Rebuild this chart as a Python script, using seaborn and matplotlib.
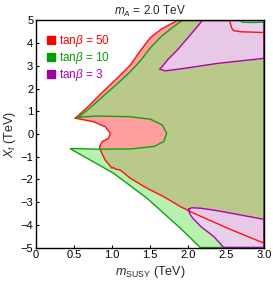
import matplotlib
matplotlib.use("Agg")
import matplotlib.pyplot as plt
import seaborn as sns
from matplotlib.lines import Line2D

# boundaries of the allowed regions (TeV)
# tan(beta) = 50
red_upper_x = [0.515, 0.70, 0.845, 1.066, 1.24, 1.38, 1.506, 1.65, 1.86]
red_upper_y = [0.69, 1.25, 1.75, 2.45, 3.03, 3.70, 4.25, 4.62, 5.0]
red_corner_x = [2.55, 2.57, 2.60, 2.70, 3.0]
red_corner_y = [5.0, 4.70, 4.55, 4.50, 4.47]
red_lower_x = [3.0, 2.52, 2.05, 1.90, 1.68, 1.46, 1.24, 1.11, 1.04, 1.02, 1.0, 0.91,
               0.845, 0.836, 0.868, 0.955, 0.977, 0.91, 0.757, 0.572, 0.515]
red_lower_y = [-4.81, -4.15, -3.45, -3.20, -2.76, -2.39, -1.95, -1.59, -1.54, -1.47, -1.51, -1.15,
               -0.70, -0.56, -0.34, -0.19, 0.03, 0.32, 0.54, 0.66, 0.69]

# tan(beta) = 10
green_upper_x = [0.54, 0.70, 0.845, 1.066, 1.24, 1.38, 1.506, 1.65, 1.80, 1.925]
green_upper_y = [0.69, 1.12, 1.55, 2.20, 2.74, 3.25, 3.80, 4.30, 4.70, 5.0]
green_corner_x = [2.68, 2.72, 2.85, 3.0]
green_corner_y = [5.0, 4.92, 4.91, 4.93]
green_lower_x = [2.16, 1.90, 1.46, 1.02, 0.45]
green_lower_y = [-5.0, -4.15, -2.83, -1.73, -0.65]
green_notch_x = [0.49, 0.80, 1.24, 1.55, 1.68, 1.72, 1.66, 1.506, 1.24, 0.80, 0.60, 0.54]
green_notch_y = [-0.64, -0.67, -0.66, -0.55, -0.34, 0.03, 0.40, 0.65, 0.76, 0.79, 0.75, 0.69]

# tan(beta) = 3
purple_top_x = [1.63, 1.68, 1.73, 1.86, 2.03, 2.19, 3.0, 3.0, 2.39, 1.95, 1.70]
purple_top_y = [2.85, 3.05, 3.26, 3.70, 4.36, 5.0, 5.0, 3.33, 3.11, 2.89, 2.78]
purple_bot_x = [2.01, 2.05, 2.17, 2.39, 3.0, 3.0, 2.47, 2.34, 2.17, 2.06, 2.02]
purple_bot_y = [-3.30, -3.25, -3.27, -3.38, -3.76, -5.0, -5.0, -4.52, -4.08, -3.70, -3.50]

labels = ["50", "10", "3"]

sns.set_style("ticks")
plt.rcParams["font.family"] = ["Liberation Sans", "DejaVu Sans"]
plt.rcParams["mathtext.fontset"] = "custom"
plt.rcParams["mathtext.it"] = "Liberation Sans:italic"
plt.rcParams["mathtext.rm"] = "Liberation Sans"

fig = plt.figure(figsize=(2.73, 2.84), dpi=100)
ax = fig.add_axes([0.132, 0.1285, 0.835, 0.7995])

red_x = red_upper_x + red_corner_x + red_lower_x
red_y = red_upper_y + red_corner_y + red_lower_y
green_x = green_upper_x + green_corner_x + [3.0] + green_lower_x + green_notch_x
green_y = green_upper_y + green_corner_y + [-5.0] + green_lower_y + green_notch_y

ax.fill(red_x, red_y, color="#ff0000", alpha=0.38, lw=0)
ax.plot(red_x, red_y, color="#ff1010", lw=1.0)
ax.fill(green_x, green_y, color="#8ae67b", alpha=0.6, lw=0)
ax.plot(green_x, green_y, color="#10a010", lw=1.0)
for px, py in [(purple_top_x, purple_top_y), (purple_bot_x, purple_bot_y)]:
    ax.fill(px, py, color="#f3c8fe", alpha=0.8, lw=0)
    ax.plot(px + px[:1], py + py[:1], color="#b000b0", lw=1.0)

ax.set_xlim(0, 3.0)
ax.set_ylim(-5, 5)
ax.set_xticks([0, 0.5, 1.0, 1.5, 2.0, 2.5, 3.0])
ax.set_xticklabels(["0", "0.5", "1.0", "1.5", "2.0", "2.5", "3.0"])
ax.set_yticks(range(-5, 6))
ax.set_yticklabels([str(v).replace("-", "\u2212") for v in range(-5, 6)])
ax.tick_params(direction="in", length=2.5, width=0.8, labelsize=8, pad=2, colors="black")
for s in ax.spines.values():
    s.set_linewidth(1.0)
    s.set_color("black")

ax.set_xlabel(r"$m_{\rm SUSY}$ (TeV)", fontsize=9, labelpad=3)
ax.set_ylabel(r"$X_t$ (TeV)", fontsize=9, labelpad=2)
ax.set_title(r"$m_A$ = 2.0 TeV", fontsize=8.5, pad=4)

handle_cols = ["#ff0000", "#00a000", "#a000a0"]
text_cols = ["#ff0000", "#00a000", "#b000b0"]
handles = [Line2D([], [], ls="", marker="s", ms=6, color=c) for c in handle_cols]
ax.legend(handles, [r"tan$\beta$ = " + l for l in labels], loc="upper left",
          frameon=False, fontsize=8.5, labelcolor=text_cols, handlelength=0.7,
          handletextpad=0.35, labelspacing=0.08, borderaxespad=0.0,
          bbox_to_anchor=(0.025, 0.965))

fig.savefig("out.png", dpi=100)
